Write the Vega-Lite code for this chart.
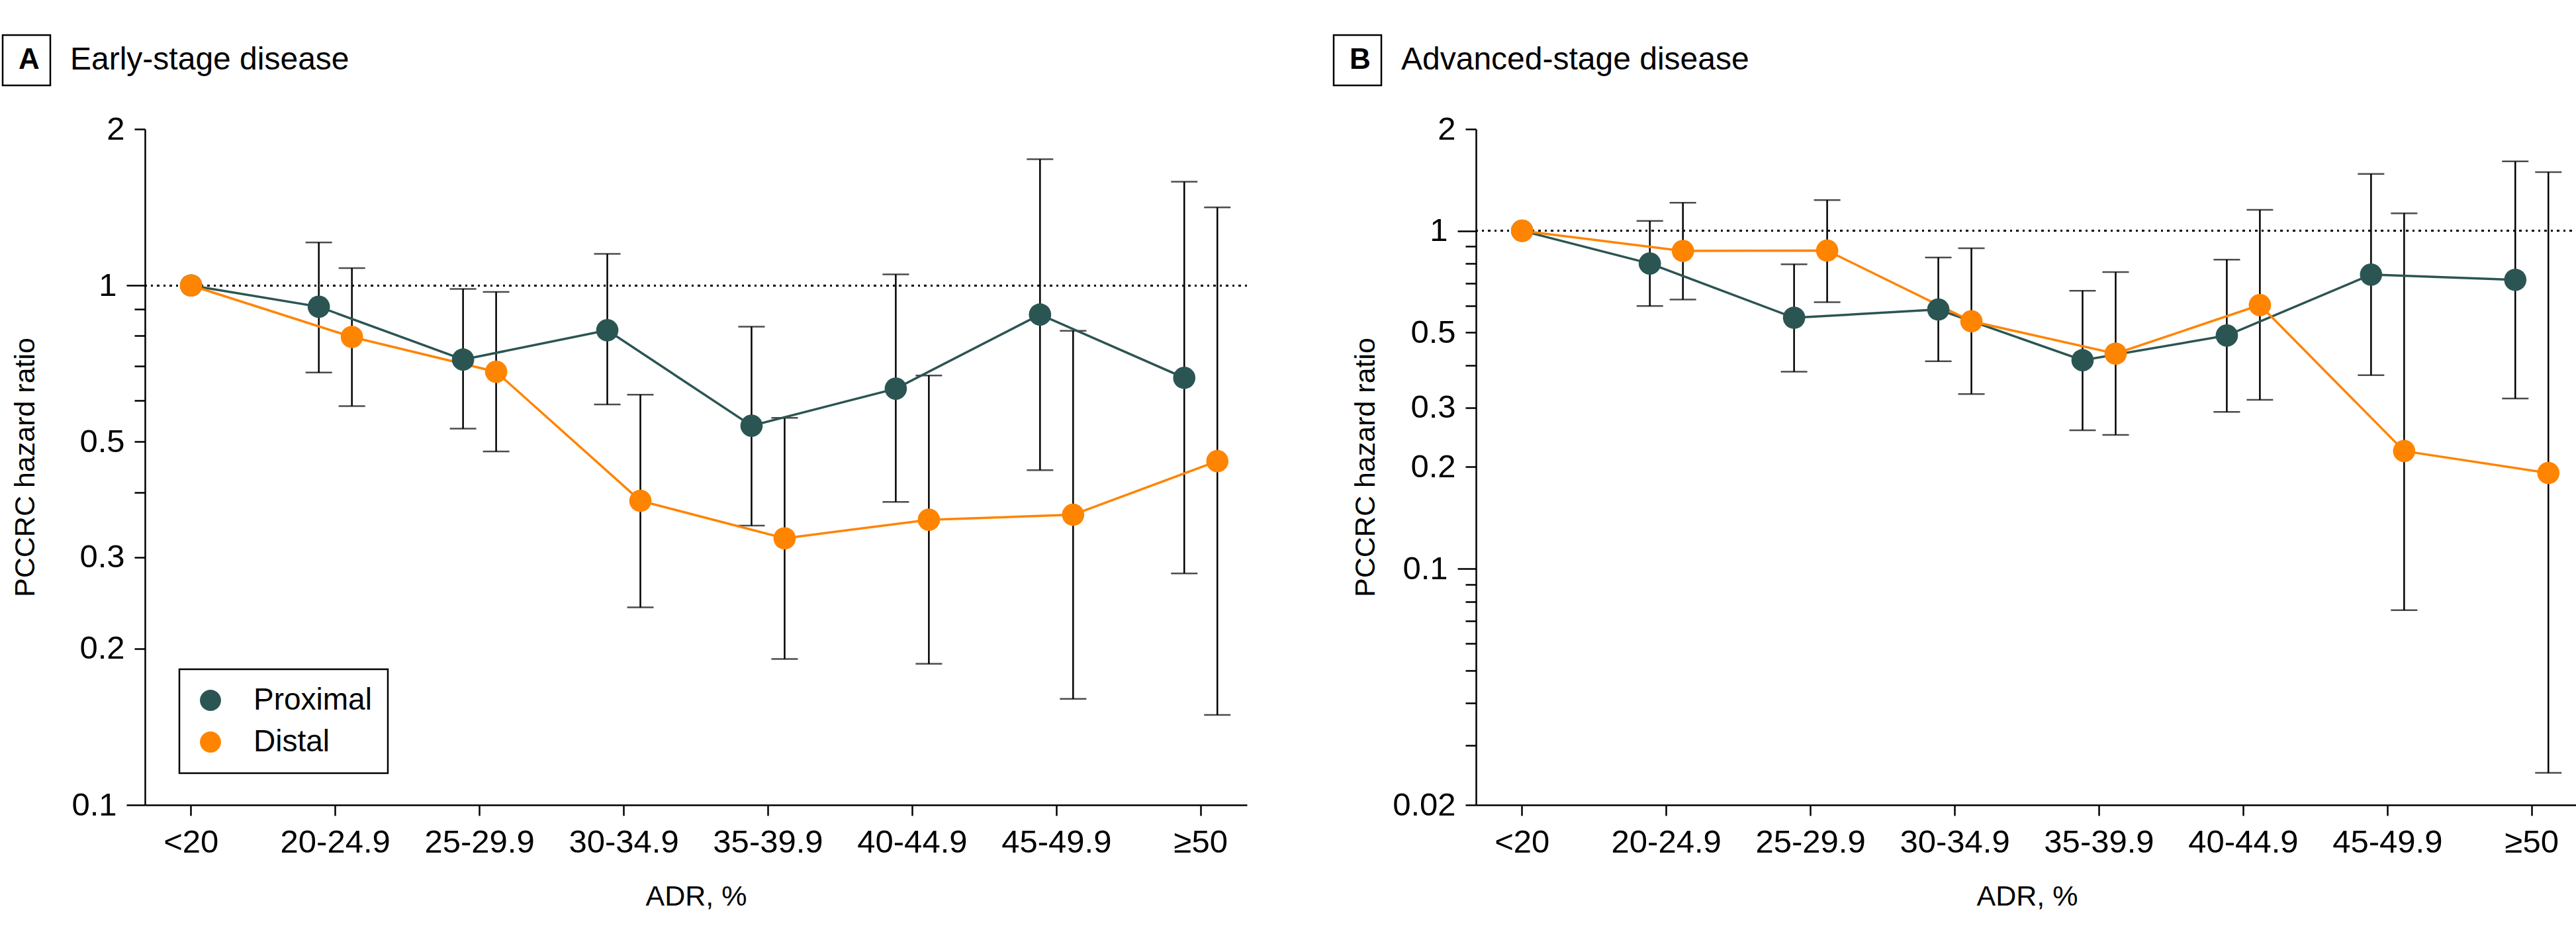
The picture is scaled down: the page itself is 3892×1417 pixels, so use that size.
{
  "$schema": "https://vega.github.io/schema/vega-lite/v6.json",
  "background": "white",
  "padding": {"left": 2, "top": 51, "right": 2, "bottom": 2},
  "config": {
    "font": "Liberation Sans",
    "view": {"stroke": null},
    "axis": {"domainColor": "#000", "domainWidth": 2.5, "tickColor": "#000", "tickWidth": 2.5, "labelColor": "#000", "titleColor": "#000", "grid": false, "labelFontSize": 49, "titleFontSize": 43, "titleFontWeight": "normal", "labelFont": "Liberation Sans", "titleFont": "Liberation Sans"},
    "legend": {"strokeColor": "#000", "strokeWidth": 2.5, "labelColor": "#000", "labelFont": "Liberation Sans", "labelLimit": 0},
    "title": {"fontSize": 48, "fontWeight": "normal", "color": "#000", "font": "Liberation Sans"}
  },
  "datasets": {
    "early": [
      {"panel": "A", "adr": "<20", "site": "Proximal", "grp": "ref", "hr": 1.0},
      {"panel": "A", "adr": "20-24.9", "site": "Proximal", "grp": "Proximal", "hr": 0.91, "lo": 0.68, "hi": 1.21},
      {"panel": "A", "adr": "25-29.9", "site": "Proximal", "grp": "Proximal", "hr": 0.72, "lo": 0.53, "hi": 0.985},
      {"panel": "A", "adr": "30-34.9", "site": "Proximal", "grp": "Proximal", "hr": 0.82, "lo": 0.59, "hi": 1.15},
      {"panel": "A", "adr": "35-39.9", "site": "Proximal", "grp": "Proximal", "hr": 0.537, "lo": 0.345, "hi": 0.833},
      {"panel": "A", "adr": "40-44.9", "site": "Proximal", "grp": "Proximal", "hr": 0.633, "lo": 0.383, "hi": 1.05},
      {"panel": "A", "adr": "45-49.9", "site": "Proximal", "grp": "Proximal", "hr": 0.879, "lo": 0.441, "hi": 1.75},
      {"panel": "A", "adr": "≥50", "site": "Proximal", "grp": "Proximal", "hr": 0.664, "lo": 0.279, "hi": 1.584},
      {"panel": "A", "adr": "<20", "site": "Distal", "grp": "ref", "hr": 1.0},
      {"panel": "A", "adr": "20-24.9", "site": "Distal", "grp": "Distal", "hr": 0.796, "lo": 0.586, "hi": 1.08},
      {"panel": "A", "adr": "25-29.9", "site": "Distal", "grp": "Distal", "hr": 0.682, "lo": 0.479, "hi": 0.972},
      {"panel": "A", "adr": "30-34.9", "site": "Distal", "grp": "Distal", "hr": 0.385, "lo": 0.24, "hi": 0.616},
      {"panel": "A", "adr": "35-39.9", "site": "Distal", "grp": "Distal", "hr": 0.326, "lo": 0.191, "hi": 0.556},
      {"panel": "A", "adr": "40-44.9", "site": "Distal", "grp": "Distal", "hr": 0.354, "lo": 0.187, "hi": 0.671},
      {"panel": "A", "adr": "45-49.9", "site": "Distal", "grp": "Distal", "hr": 0.362, "lo": 0.16, "hi": 0.818},
      {"panel": "A", "adr": "≥50", "site": "Distal", "grp": "Distal", "hr": 0.459, "lo": 0.149, "hi": 1.414}
    ],
    "advanced": [
      {"panel": "B", "adr": "<20", "site": "Proximal", "grp": "ref", "hr": 1.0},
      {"panel": "B", "adr": "20-24.9", "site": "Proximal", "grp": "Proximal", "hr": 0.80, "lo": 0.599, "hi": 1.07},
      {"panel": "B", "adr": "25-29.9", "site": "Proximal", "grp": "Proximal", "hr": 0.553, "lo": 0.383, "hi": 0.796},
      {"panel": "B", "adr": "30-34.9", "site": "Proximal", "grp": "Proximal", "hr": 0.585, "lo": 0.411, "hi": 0.834},
      {"panel": "B", "adr": "35-39.9", "site": "Proximal", "grp": "Proximal", "hr": 0.414, "lo": 0.257, "hi": 0.665},
      {"panel": "B", "adr": "40-44.9", "site": "Proximal", "grp": "Proximal", "hr": 0.49, "lo": 0.291, "hi": 0.822},
      {"panel": "B", "adr": "45-49.9", "site": "Proximal", "grp": "Proximal", "hr": 0.742, "lo": 0.374, "hi": 1.474},
      {"panel": "B", "adr": "≥50", "site": "Proximal", "grp": "Proximal", "hr": 0.716, "lo": 0.319, "hi": 1.606},
      {"panel": "B", "adr": "<20", "site": "Distal", "grp": "ref", "hr": 1.0},
      {"panel": "B", "adr": "20-24.9", "site": "Distal", "grp": "Distal", "hr": 0.872, "lo": 0.626, "hi": 1.211},
      {"panel": "B", "adr": "25-29.9", "site": "Distal", "grp": "Distal", "hr": 0.874, "lo": 0.615, "hi": 1.233},
      {"panel": "B", "adr": "30-34.9", "site": "Distal", "grp": "Distal", "hr": 0.54, "lo": 0.329, "hi": 0.888},
      {"panel": "B", "adr": "35-39.9", "site": "Distal", "grp": "Distal", "hr": 0.433, "lo": 0.249, "hi": 0.755},
      {"panel": "B", "adr": "40-44.9", "site": "Distal", "grp": "Distal", "hr": 0.603, "lo": 0.316, "hi": 1.154},
      {"panel": "B", "adr": "45-49.9", "site": "Distal", "grp": "Distal", "hr": 0.223, "lo": 0.0754, "hi": 1.126},
      {"panel": "B", "adr": "≥50", "site": "Distal", "grp": "Distal", "hr": 0.192, "lo": 0.0249, "hi": 1.492}
    ]
  },
  "spacing": 127,
  "resolve": {
    "scale": {"x": "independent", "y": "independent", "xOffset": "independent", "color": "independent", "shape": "independent"},
    "legend": {"color": "independent", "shape": "independent"}
  },
  "hconcat": [
    {
      "data": {"name": "early"},
      "width": 1665,
      "height": 1021,
      "title": {"text": "Early-stage disease", "anchor": "start", "frame": "group", "dx": -113, "baseline": "alphabetic", "offset": -101},
      "layer": [
        {
          "mark": {"type": "rule", "strokeDash": [3, 6.5], "strokeWidth": 2.5, "color": "#000"},
          "encoding": {"y": {"datum": 1, "type": "quantitative", "scale": {"type": "log", "domain": [0.1, 2], "nice": false},
              "axis": {"title": "PCCRC hazard ratio", "values": [0.1, 0.2, 0.3, 0.4, 0.5, 0.6, 0.7, 0.8, 0.9, 1, 2],
                "labelExpr": "indexof([2, 1, 0.5, 0.3, 0.2, 0.1], datum.value) >= 0 ? '' + datum.value : ''",
                "tickSize": {"condition": {"test": "datum.value == 1 || datum.value == 0.1", "value": 28}, "value": 16},
                "labelPadding": 15, "titlePadding": 47}}}
        },
        {
          "mark": {"type": "rule", "color": "#000", "strokeWidth": 2.5},
          "encoding": {
            "x": {"field": "adr", "type": "ordinal", "scale": {"type": "band", "domain": ["<20", "20-24.9", "25-29.9", "30-34.9", "35-39.9", "40-44.9", "45-49.9", "≥50"], "paddingInner": 0.6, "paddingOuter": 0.12},
              "axis": {"title": "ADR, %", "labelAngle": 0, "tickSize": 16, "labelPadding": 16, "titlePadding": 36}},
            "xOffset": {"field": "grp", "type": "nominal", "scale": {"type": "band", "domain": ["Proximal", "ref", "Distal"], "paddingInner": 0, "paddingOuter": 0.244}},
            "y": {"field": "lo", "type": "quantitative"},
            "y2": {"field": "hi"}
          }
        },
        {
          "mark": {"type": "tick", "color": "#000", "thickness": 2.5, "size": 40},
          "encoding": {
            "x": {"field": "adr", "type": "ordinal"},
            "xOffset": {"field": "grp", "type": "nominal"},
            "y": {"field": "lo", "type": "quantitative"}
          }
        },
        {
          "mark": {"type": "tick", "color": "#000", "thickness": 2.5, "size": 40},
          "encoding": {
            "x": {"field": "adr", "type": "ordinal"},
            "xOffset": {"field": "grp", "type": "nominal"},
            "y": {"field": "hi", "type": "quantitative"}
          }
        },
        {
          "mark": {"type": "line", "strokeWidth": 3.5},
          "encoding": {
            "x": {"field": "adr", "type": "ordinal"},
            "xOffset": {"field": "grp", "type": "nominal"},
            "y": {"field": "hr", "type": "quantitative"},
            "color": {"field": "site", "type": "nominal"},
            "order": {"value": null}
          }
        },
        {
          "mark": {"type": "point", "filled": true, "size": 1134, "opacity": 1},
          "encoding": {
            "x": {"field": "adr", "type": "ordinal"},
            "xOffset": {"field": "grp", "type": "nominal"},
            "y": {"field": "hr", "type": "quantitative"},
            "color": {"field": "site", "type": "nominal", "scale": {"domain": ["Proximal", "Distal"], "range": ["#2B5552", "#FF8400"]},
              "legend": {"orient": "none", "legendX": 52, "legendY": 816, "title": null, "labelFontSize": 46, "symbolSize": 1018, "symbolType": "circle", "padding": 24, "rowPadding": 17, "labelOffset": 42, "symbolStrokeWidth": 0}},
            "shape": {"field": "panel", "type": "nominal", "scale": {"range": ["circle"]},
              "legend": {"orient": "none", "legendX": -215, "legendY": -142, "title": null, "labelFontSize": 44, "labelFontWeight": "bold", "symbolOpacity": 0, "labelOffset": -36, "padding": 16}}
          }
        }
      ]
    },
    {
      "data": {"name": "advanced"},
      "width": 1665,
      "height": 1021,
      "title": {"text": "Advanced-stage disease", "anchor": "start", "frame": "group", "dx": -113, "baseline": "alphabetic", "offset": -101},
      "layer": [
        {
          "mark": {"type": "rule", "strokeDash": [3, 6.5], "strokeWidth": 2.5, "color": "#000"},
          "encoding": {"y": {"datum": 1, "type": "quantitative", "scale": {"type": "log", "domain": [0.02, 2], "nice": false},
              "axis": {"title": "PCCRC hazard ratio", "values": [0.02, 0.03, 0.04, 0.05, 0.06, 0.07, 0.08, 0.09, 0.1, 0.2, 0.3, 0.4, 0.5, 0.6, 0.7, 0.8, 0.9, 1, 2],
                "labelExpr": "indexof([2, 1, 0.5, 0.3, 0.2, 0.1, 0.02], datum.value) >= 0 ? '' + datum.value : ''",
                "tickSize": {"condition": {"test": "datum.value == 1 || datum.value == 0.1", "value": 28}, "value": 16},
                "labelPadding": 15, "titlePadding": 18}}}
        },
        {
          "mark": {"type": "rule", "color": "#000", "strokeWidth": 2.5},
          "encoding": {
            "x": {"field": "adr", "type": "ordinal", "scale": {"type": "band", "domain": ["<20", "20-24.9", "25-29.9", "30-34.9", "35-39.9", "40-44.9", "45-49.9", "≥50"], "paddingInner": 0.6, "paddingOuter": 0.12},
              "axis": {"title": "ADR, %", "labelAngle": 0, "tickSize": 16, "labelPadding": 16, "titlePadding": 36}},
            "xOffset": {"field": "grp", "type": "nominal", "scale": {"type": "band", "domain": ["Proximal", "ref", "Distal"], "paddingInner": 0, "paddingOuter": 0.244}},
            "y": {"field": "lo", "type": "quantitative"},
            "y2": {"field": "hi"}
          }
        },
        {
          "mark": {"type": "tick", "color": "#000", "thickness": 2.5, "size": 40},
          "encoding": {
            "x": {"field": "adr", "type": "ordinal"},
            "xOffset": {"field": "grp", "type": "nominal"},
            "y": {"field": "lo", "type": "quantitative"}
          }
        },
        {
          "mark": {"type": "tick", "color": "#000", "thickness": 2.5, "size": 40},
          "encoding": {
            "x": {"field": "adr", "type": "ordinal"},
            "xOffset": {"field": "grp", "type": "nominal"},
            "y": {"field": "hi", "type": "quantitative"}
          }
        },
        {
          "mark": {"type": "line", "strokeWidth": 3.5},
          "encoding": {
            "x": {"field": "adr", "type": "ordinal"},
            "xOffset": {"field": "grp", "type": "nominal"},
            "y": {"field": "hr", "type": "quantitative"},
            "color": {"field": "site", "type": "nominal"},
            "order": {"value": null}
          }
        },
        {
          "mark": {"type": "point", "filled": true, "size": 1134, "opacity": 1},
          "encoding": {
            "x": {"field": "adr", "type": "ordinal"},
            "xOffset": {"field": "grp", "type": "nominal"},
            "y": {"field": "hr", "type": "quantitative"},
            "color": {"field": "site", "type": "nominal", "scale": {"domain": ["Proximal", "Distal"], "range": ["#2B5552", "#FF8400"]}, "legend": null},
            "shape": {"field": "panel", "type": "nominal", "scale": {"range": ["circle"]},
              "legend": {"orient": "none", "legendX": -215, "legendY": -142, "title": null, "labelFontSize": 44, "labelFontWeight": "bold", "symbolOpacity": 0, "labelOffset": -36, "padding": 16}}
          }
        }
      ]
    }
  ]
}
